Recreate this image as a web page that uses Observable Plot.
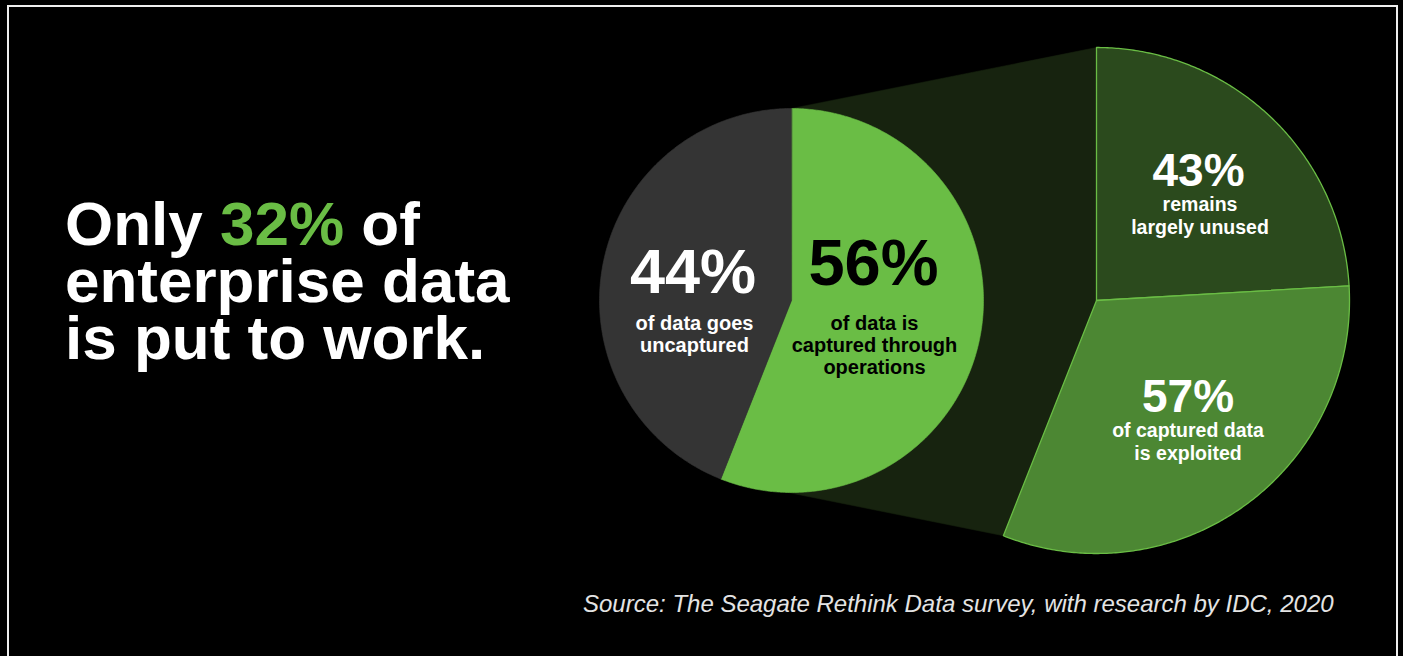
<!DOCTYPE html>
<html>
<head>
<meta charset="utf-8">
<script src="https://cdn.jsdelivr.net/npm/d3@7"></script>
<script src="https://cdn.jsdelivr.net/npm/@observablehq/plot@0.6"></script>
<style>
  html, body { margin: 0; padding: 0; background: #000; }
  #wrap { position: relative; width: 1403px; height: 656px; overflow: hidden; background: #000; }
  #frame { position: absolute; left: 7px; top: 5px; width: 1391px; height: 720px; border: 2px solid #efefef; box-sizing: border-box; }
  #chart { position: absolute; left: 0; top: 0; }
  #title { position: absolute; left: 65px; top: 195px; font-family: "Liberation Sans", Arial, sans-serif; font-weight: 700;
           font-size: 62px; line-height: 57px; color: #fff; white-space: nowrap; }
  #title div { height: 57px; }
  #title .hl { color: #6abd45; }
  #source { position: absolute; left: 583px; top: 592px; font-family: "Liberation Sans", Arial, sans-serif; font-style: italic;
            font-size: 24px; line-height: 24px; color: #e4e4e4; white-space: nowrap; }
</style>
</head>
<body>
<div id="wrap">
  <div id="frame"></div>
  <div id="chart"></div>
  <div id="title"></div>
  <div id="source"></div>
</div>
<script>
// ---- data ----
const headlineParts = ["Only ", "32%", " of", "enterprise data", "is put to work."];
const pieCategories = ["captured", "uncaptured"];
const pieValues = [56, 44];
const pieValueLabels = ["56%", "44%"];
const pieNotes = ["of data is\ncaptured through\noperations", "of data goes\nuncaptured"];
const subCategories = ["unused", "exploited"];
const subValues = [43, 57];
const subValueLabels = ["43%", "57%"];
const subNotes = ["remains\nlargely unused", "of captured data\nis exploited"];
const sourceText = "Source: The Seagate Rethink Data survey, with research by IDC, 2020";

// ---- layout & style ----
const W = 1403, H = 656;
const LP = {cx: 791, cy: 300, r: 192};   // main pie
const RP = {cx: 1096, cy: 300, r: 253};  // breakdown pie
const pieColors = ["#6abd45", "#343434"];
const subColors = ["#2b4a1d", "#4c8733"];
const connectorColor = "#17230f";
const outlineColor = "#6abd45";
const mainValueStyle = [{fs: 65, fill: "#000"}, {fs: 63, fill: "#fff"}];
// label offsets relative to pie centre: [value dx, value baseline dy, note dx, note last-baseline dy]
const mainLabelOffsets = [[82, -16, 83, 73], [-98.5, -8, -97, 51]];
const subLabelOffsets = [[102, -115, 103.5, -67], [91.5, 111, 91.5, 159]];
const FONT = "Liberation Sans, Arial, sans-serif";

// ---- geometry helpers ----
const pt = (c, a, rr = c.r) => [c.cx + rr * Math.sin(a), c.cy - rr * Math.cos(a)];
function slicePoints(c, a0, a1, id, fill, stroke) {
  const n = Math.max(2, Math.ceil((a1 - a0) / (Math.PI / 360)));
  const pts = [{id, fill, stroke, x: c.cx, y: c.cy}];
  for (let i = 0; i <= n; i++) {
    const a = a0 + (a1 - a0) * i / n;
    const [x, y] = pt(c, a);
    pts.push({id, fill, stroke, x, y});
  }
  return pts;
}

const mainArcs = d3.pie().sort(null).value(d => d)(pieValues);
const focus = mainArcs[0];
const subArcs = d3.pie().sort(null).value(d => d)
  .startAngle(focus.startAngle).endAngle(focus.endAngle)(subValues);

const mainPts = mainArcs.flatMap((a, i) => slicePoints(LP, a.startAngle, a.endAngle, pieCategories[i], pieColors[i], pieColors[i]));
const subPts = subArcs.flatMap((a, i) => slicePoints(RP, a.startAngle, a.endAngle, subCategories[i], subColors[i], outlineColor));
const connectorPts = [pt(LP, focus.startAngle), pt(RP, focus.startAngle), [RP.cx, RP.cy], pt(RP, focus.endAngle), pt(LP, focus.endAngle), [LP.cx, LP.cy]]
  .map(([x, y]) => ({id: "connector", x, y}));

const mainLabels = pieCategories.map((k, i) => ({
  value: pieValueLabels[i], note: pieNotes[i],
  vx: LP.cx + mainLabelOffsets[i][0], vy: LP.cy + mainLabelOffsets[i][1],
  nx: LP.cx + mainLabelOffsets[i][2], ny: LP.cy + mainLabelOffsets[i][3]
}));
const subLabels = subCategories.map((k, i) => ({
  value: subValueLabels[i], note: subNotes[i],
  vx: RP.cx + subLabelOffsets[i][0], vy: RP.cy + subLabelOffsets[i][1],
  nx: RP.cx + subLabelOffsets[i][2], ny: RP.cy + subLabelOffsets[i][3]
}));

const textMark = (data, x, y, text, size, fill, lh) => Plot.text(data, {
  x, y, text, fill, fontSize: size, fontWeight: "bold", fontFamily: FONT,
  textAnchor: "middle", lineAnchor: "bottom", lineHeight: lh
});

const chart = Plot.plot({
  width: W, height: H, margin: 0,
  x: {domain: [0, W], range: [0, W], axis: null},
  y: {domain: [0, H], range: [0, H], axis: null},
  color: {type: "identity"},
  style: {background: "transparent", overflow: "visible"},
  marks: [
    Plot.line(connectorPts, {x: "x", y: "y", z: "id", fill: connectorColor, stroke: connectorColor, strokeWidth: 0.5, curve: "linear-closed"}),
    Plot.line(mainPts, {x: "x", y: "y", z: "id", fill: "fill", stroke: "stroke", strokeWidth: 0.6, curve: "linear-closed"}),
    Plot.line(subPts, {x: "x", y: "y", z: "id", fill: "fill", stroke: "stroke", strokeWidth: 1.3, curve: "linear-closed"}),
    textMark([mainLabels[0]], "vx", "vy", "value", mainValueStyle[0].fs, mainValueStyle[0].fill, 1),
    textMark([mainLabels[1]], "vx", "vy", "value", mainValueStyle[1].fs, mainValueStyle[1].fill, 1),
    textMark([mainLabels[0]], "nx", "ny", "note", 20, "#000", 1.1),
    textMark([mainLabels[1]], "nx", "ny", "note", 20, "#fff", 1.1),
    textMark(subLabels, "vx", "vy", "value", 46, "#fff", 1),
    textMark(subLabels, "nx", "ny", "note", 19.5, "#fff", 1.13)
  ]
});
document.getElementById("chart").appendChild(chart);

// ---- headline & source ----
const t = document.getElementById("title");
const l1 = document.createElement("div");
l1.append(headlineParts[0]);
const hl = document.createElement("span"); hl.className = "hl"; hl.textContent = headlineParts[1];
l1.append(hl, headlineParts[2]);
const l2 = document.createElement("div"); l2.textContent = headlineParts[3];
const l3 = document.createElement("div"); l3.textContent = headlineParts[4];
t.append(l1, l2, l3);
document.getElementById("source").textContent = sourceText;
</script>
</body>
</html>
